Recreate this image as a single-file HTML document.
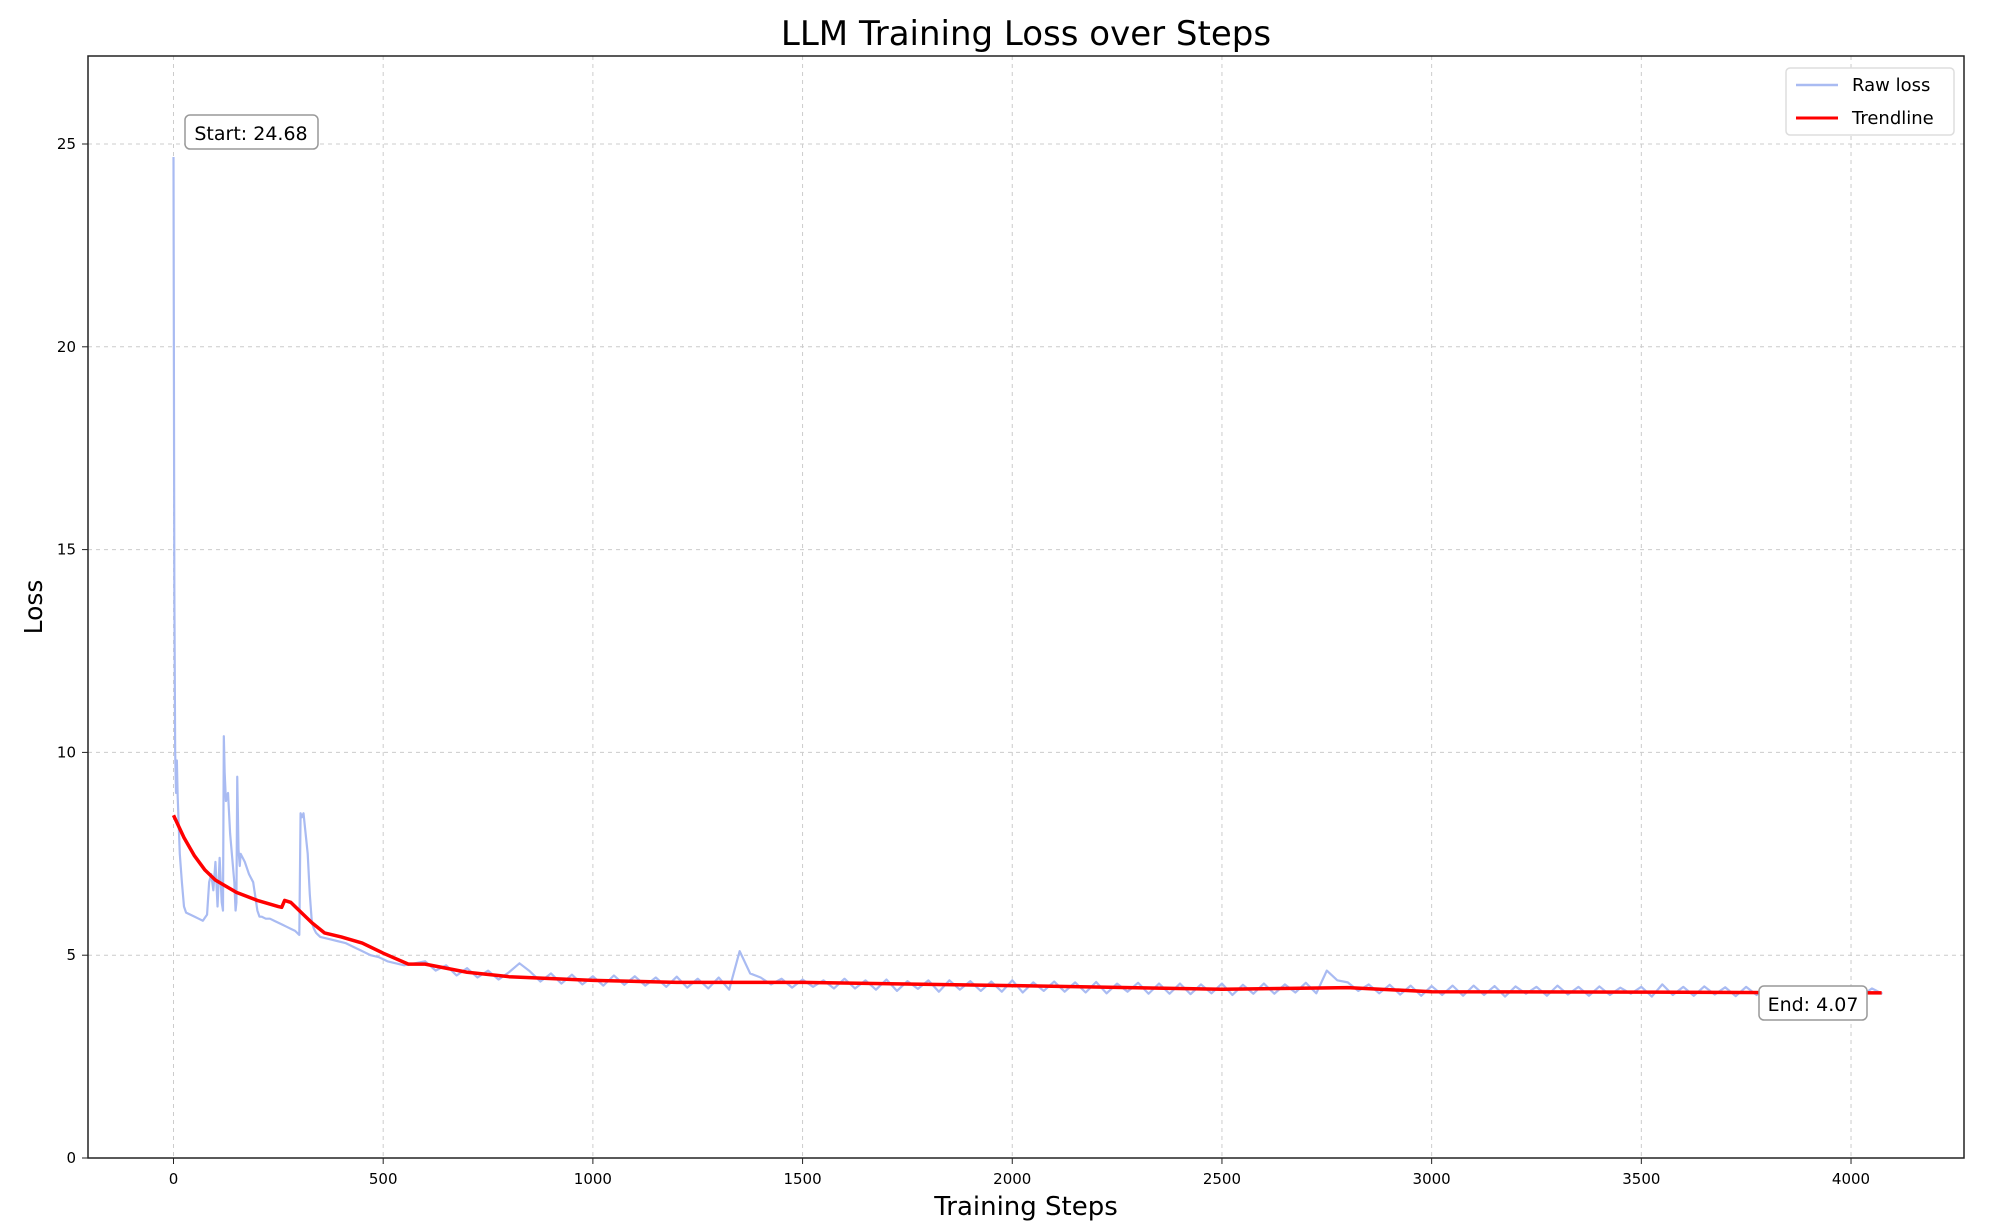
<!DOCTYPE html>
<html><head><meta charset="utf-8"><style>
body{margin:0;background:#fff;}
svg{display:block;font-family:"DejaVu Sans","Liberation Sans",sans-serif;}
</style></head><body>
<svg id="chart" width="2000" height="1231" viewBox="0 0 2000 1231">
<rect width="2000" height="1231" fill="#fff"/>
<text x="1026" y="45" font-size="34" text-anchor="middle" fill="#000">LLM Training Loss over Steps</text>
<text x="1026" y="1215" font-size="26" text-anchor="middle">Training Steps</text>
<text transform="translate(42,607) rotate(-90)" font-size="25" text-anchor="middle">Loss</text>
<g id="grid"></g><g id="ticks"></g>
<g id="series"></g>
<rect x="88" y="56" width="1876" height="1102" fill="none" stroke="#222" stroke-width="1.5"/>
<g>
<rect x="185" y="115" width="133" height="34" rx="5" fill="#fff" stroke="#999" stroke-width="1.5"/>
<text x="251" y="140" font-size="19" text-anchor="middle">Start: 24.68</text></g>
<g>
<rect x="1759" y="986" width="108" height="34" rx="5" fill="#fff" stroke="#999" stroke-width="1.5"/>
<text x="1813" y="1011" font-size="19" text-anchor="middle">End: 4.07</text></g>
<g>
<rect x="1786" y="68" width="168" height="67" rx="4" fill="#fff" stroke="#ddd" stroke-width="1.5"/>
<g><line x1="1796" y1="85" x2="1838" y2="85" stroke="#a9bbf2" stroke-width="2.5"/>
<text x="1852" y="91" font-size="18">Raw loss</text></g>
<g><line x1="1796" y1="118" x2="1838" y2="118" stroke="#f00" stroke-width="3"/>
<text x="1852" y="124" font-size="18">Trendline</text></g>
</g>
</svg>
<script>
const xTicks=[0,500,1000,1500,2000,2500,3000,3500,4000];
const yTicks=[0,5,10,15,20,25];
const earlySteps=[0,2,4,6,8,10,15,20,25,30,40,50,60,70,80,85,90,95,100,105,110,115,118,120,122,125,130,135,140,145,148,150,152,155,158,160,170,180,190,200,205,210,220,230,240,250,260,270,280,290,300,303,306,310,315,320,325,330,335,340,345,350,370,390,410,430,450,470,490,510,530,550];
const earlyLoss=[24.68,14,10.0,9.0,9.8,8.9,7.5,6.8,6.2,6.05,6.0,5.95,5.9,5.85,6.0,6.8,7.0,6.6,7.3,6.2,7.4,6.3,6.1,10.4,9.5,8.8,9.0,8.0,7.4,6.8,6.1,6.3,9.4,7.6,7.2,7.5,7.3,7.0,6.8,6.1,5.95,5.95,5.9,5.9,5.85,5.8,5.75,5.7,5.65,5.6,5.5,8.5,8.4,8.5,8.0,7.5,6.5,5.8,5.65,5.55,5.5,5.45,5.4,5.35,5.3,5.2,5.1,5.0,4.95,4.85,4.8,4.75];
const lateStart=600, lateSpacing=25;
const lateLoss=[4.85,4.62,4.75,4.50,4.68,4.45,4.62,4.40,4.58,4.80,
4.60,4.35,4.55,4.30,4.52,4.28,4.48,4.25,4.50,4.27,
4.48,4.25,4.45,4.22,4.47,4.20,4.42,4.18,4.45,4.15,
5.10,4.55,4.45,4.28,4.42,4.20,4.40,4.22,4.38,4.18,
4.42,4.18,4.38,4.15,4.40,4.12,4.36,4.17,4.38,4.10,
4.38,4.15,4.36,4.12,4.35,4.10,4.38,4.08,4.33,4.12,
4.35,4.10,4.33,4.08,4.34,4.06,4.30,4.10,4.32,4.05,
4.30,4.05,4.30,4.04,4.28,4.06,4.30,4.02,4.27,4.05,
4.30,4.05,4.28,4.08,4.32,4.06,4.62,4.38,4.33,4.12,
4.28,4.06,4.27,4.03,4.25,4.00,4.24,4.02,4.25,4.00,
4.25,4.02,4.24,3.98,4.23,4.05,4.22,4.00,4.25,4.03,
4.22,4.00,4.23,4.02,4.20,4.05,4.22,3.98,4.28,4.02,
4.22,4.00,4.23,4.03,4.21,3.99,4.22,4.02,4.21,4.00,
4.22,4.01,4.20,4.00,4.22,4.02,4.20,4.00,4.18,4.05];
const trendSteps=[0,25,50,75,100,150,200,250,258,265,280,300,330,360,400,450,500,560,600,700,800,1000,1200,1500,2000,2500,2800,3000,3500,4073];
const trendLoss=[8.45,7.9,7.45,7.1,6.85,6.55,6.35,6.2,6.18,6.35,6.3,6.1,5.8,5.55,5.45,5.3,5.05,4.78,4.78,4.58,4.47,4.38,4.33,4.33,4.25,4.16,4.2,4.1,4.09,4.07];
const X0=173.5,XS=0.41938,Y0=1158,YS=40.56;
const xs=s=>X0+s*XS, ys=v=>Y0-v*YS;
const NS="http://www.w3.org/2000/svg";
const grid=document.getElementById('grid'),ticks=document.getElementById('ticks'),series=document.getElementById('series');
function mk(t,a,p){const e=document.createElementNS(NS,t);for(const k in a)e.setAttribute(k,a[k]);p.appendChild(e);return e;}
xTicks.forEach(t=>{const x=xs(t);
const g=mk('line',{x1:x,x2:x,y1:56,y2:1158,stroke:'#ccc','stroke-dasharray':'4,4','stroke-width':1},grid);


mk('line',{x1:x,x2:x,y1:1158,y2:1164,stroke:'#222'},ticks);
const l=mk('text',{x:x,y:1184,'font-size':15,'text-anchor':'middle'},ticks);l.textContent=t;

});
yTicks.forEach(t=>{const y=ys(t);
const g=mk('line',{x1:88,x2:1964,y1:y,y2:y,stroke:'#ccc','stroke-dasharray':'4,4','stroke-width':1},grid);


mk('line',{x1:82,x2:88,y1:y,y2:y,stroke:'#222'},ticks);
const l=mk('text',{x:76,y:y+5,'font-size':15,'text-anchor':'end'},ticks);l.textContent=t;

});
let pts=earlySteps.map((s,i)=>xs(s)+','+ys(earlyLoss[i]));
lateLoss.forEach((v,i)=>pts.push(xs(lateStart+i*lateSpacing)+','+ys(v)));
const raw=mk('polyline',{points:pts.join(' '),fill:'none',stroke:'#a9bbf2','stroke-width':2.2,'stroke-linejoin':'round'},series);


const tr=mk('polyline',{points:trendSteps.map((s,i)=>xs(s)+','+ys(trendLoss[i])).join(' '),fill:'none',stroke:'#f00','stroke-width':3.5,'stroke-linejoin':'round'},series);


</script>
</body></html>
